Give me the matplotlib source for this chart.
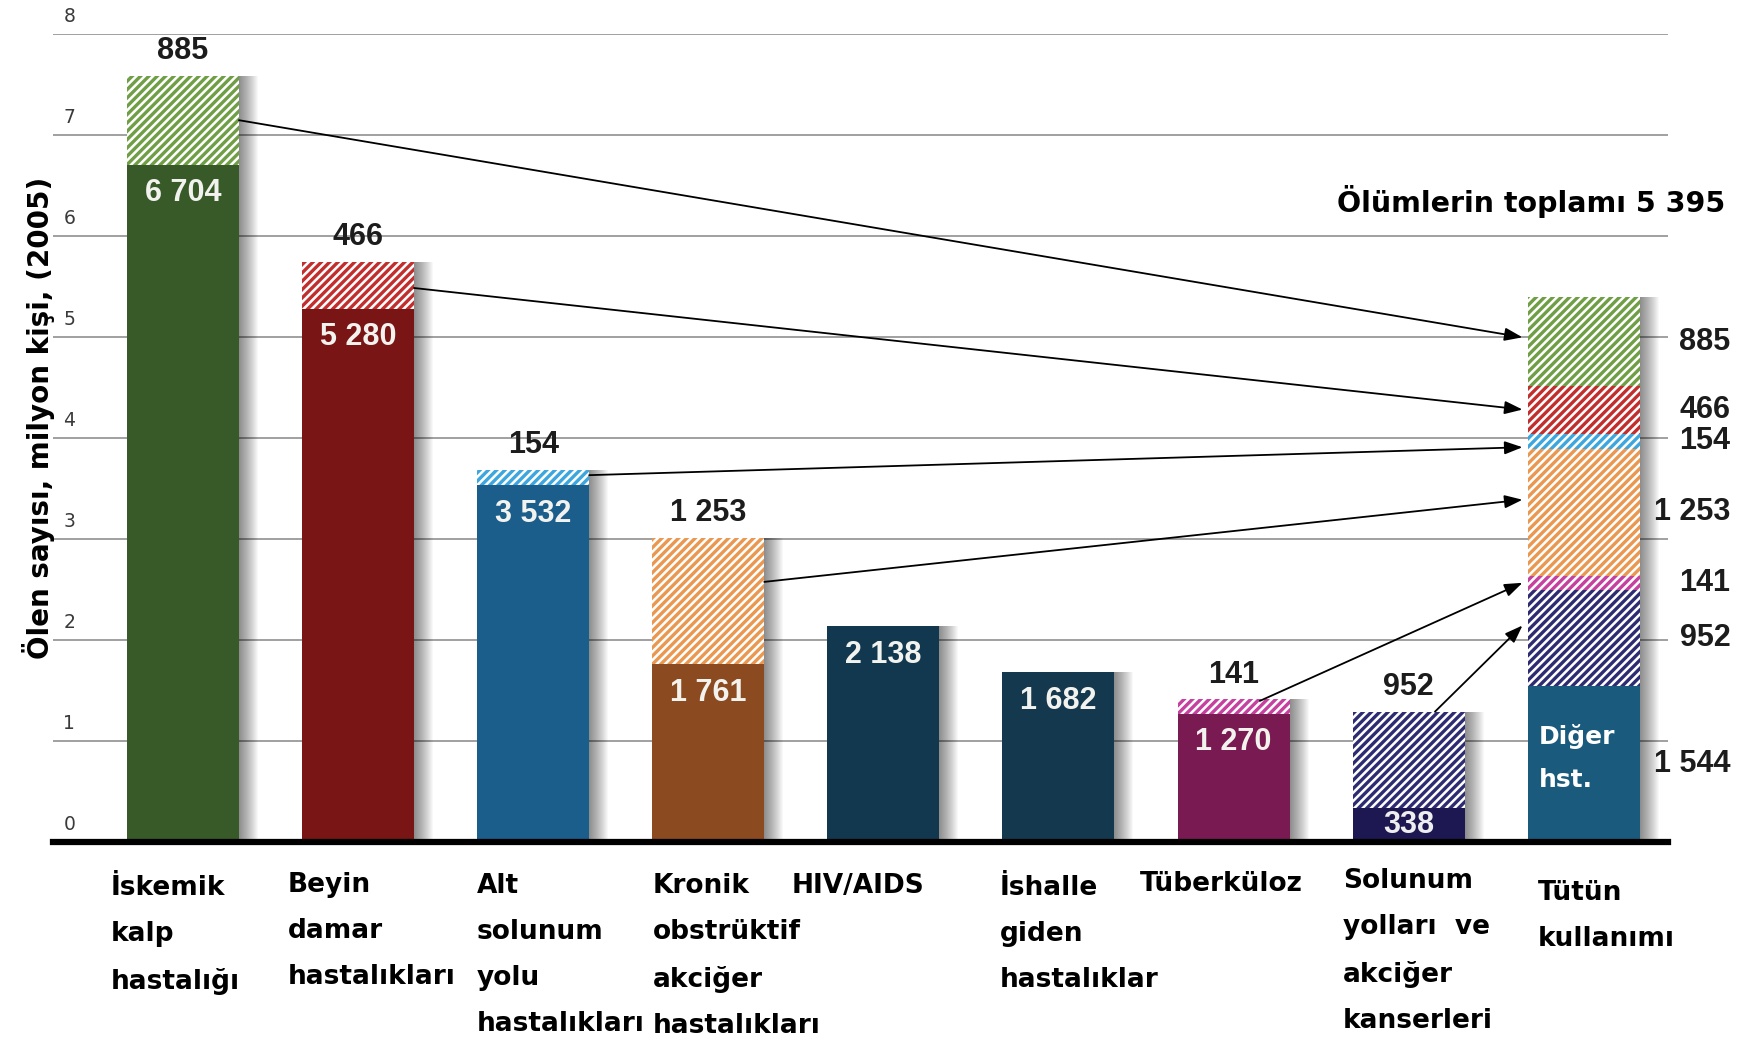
import matplotlib
matplotlib.use("Agg")
import matplotlib.pyplot as plt
import matplotlib.patheffects as pe
import numpy as np

# Deaths in thousands, 2005
categories = [
    "İskemik\nkalp\nhastalığı",
    "Beyin\ndamar\nhastalıkları",
    "Alt\nsolunum\nyolu\nhastalıkları",
    "Kronik\nobstrüktif\nakciğer\nhastalıkları",
    "HIV/AIDS",
    "İshalle\ngiden\nhastalıklar",
    "Tüberküloz",
    "Solunum\nyolları  ve\nakciğer\nkanserleri",
    "Tütün\nkullanımı",
]
other_deaths = [6704, 5280, 3532, 1761, 2138, 1682, 1270, 338]
tobacco_deaths = [885, 466, 154, 1253, 0, 0, 141, 952]
tobacco_other = 1544              # "Diğer hst." part of the tobacco bar
stack_order = [7, 6, 3, 2, 1, 0]  # bottom -> top in the tobacco bar
yticks = list(range(0, 9))

solid_colors = ["#385a28", "#7a1515", "#1b5d8b", "#8b4a1f",
                "#12384f", "#14394f", "#7a1a52", "#1d1852"]
hatch_colors = ["#6f9e45", "#c22e2e", "#3da6de", "#ea9750",
                None, None, "#c5409f", "#2d2c72"]
other_tobacco_color = "#1a5a7c"

# arrow anchors: offset from bar centre, fraction inside source / target segment
arrow_dx = [0.32, 0.32, 0.32, 0.32, 0.15, 0.15]
arrow_src_frac = [0.50, 0.44, 0.65, 0.65, 0.90, 1.0]
arrow_dst_frac = [0.55, 0.51, 0.12, 0.60, 0.50, 0.63]

# x-label anchors in pixels (left, top of first line)
label_xy = [(111, 875), (288, 872), (477, 873), (653, 873), (792, 873),
            (1000, 875), (1140, 871), (1343, 868), (1538, 880)]


def fmt(v):
    return f"{v:,}".replace(",", " ")


W, H = 1748, 1041
plt.rcParams["hatch.linewidth"] = 2.4
fig = plt.figure(figsize=(W / 100, H / 100), dpi=100)
fig.patch.set_facecolor("white")
ax = fig.add_axes([53 / W, 1 - 842 / H, (1668 - 53) / W, (842 - 34) / H])
ax.set_xlim(-0.742, 8.481)
ax.set_ylim(0, 8)
for s in ax.spines.values():
    s.set_visible(False)
ax.set_xticks([])
ax.set_yticks(yticks)
ax.tick_params(axis="y", length=0, labelleft=False)
ax.yaxis.grid(True, color="#a0a0a0", lw=1.4, zorder=0)
ax.set_axisbelow(True)

for v in yticks:
    ax.annotate(str(v), xy=(0, v), xycoords=("axes fraction", "data"),
                xytext=(7.5, 6), textcoords="offset points", ha="left",
                va="bottom", fontsize=13.5, color="#3a3a3a",
                family="DejaVu Sans")

width = 0.64
x = np.arange(len(other_deaths))
other = np.array(other_deaths) / 1000
tob = np.array(tobacco_deaths) / 1000
xt = len(other_deaths)
tob_total = (tobacco_other + sum(tobacco_deaths)) / 1000

# soft drop shadows to the right of every bar
totals = np.append(other + tob, tob_total)
shadow = [pe.SimplePatchShadow(offset=(d * 0.72, 0), shadow_rgbFace="black",
                               alpha=0.026) for d in range(1, 20)]
ax.bar(np.arange(len(totals)), totals, width, color="white", lw=0,
       zorder=1, path_effects=shadow)

# non-tobacco parts
ax.bar(x, other, width, color=solid_colors, lw=0, zorder=2)
# tobacco-attributable parts (hatched)
for i in range(len(x)):
    if tob[i] > 0:
        ax.bar(x[i], tob[i], width, bottom=other[i], facecolor="white",
               edgecolor=hatch_colors[i], lw=0, hatch="////", zorder=2)

# stacked tobacco bar
seg_bottoms = {}
ax.bar(xt, tobacco_other / 1000, width, color=other_tobacco_color, lw=0, zorder=2)
right_labels = [(tobacco_other / 1000 / 2, fmt(tobacco_other))]
base = tobacco_other / 1000
for i in stack_order:
    ax.bar(xt, tob[i], width, bottom=base, facecolor="white",
           edgecolor=hatch_colors[i], lw=0, hatch="////", zorder=2)
    seg_bottoms[i] = base
    right_labels.append((base + tob[i] / 2, fmt(tobacco_deaths[i])))
    base += tob[i]

num_font = dict(family="Liberation Sans", fontweight="bold", fontsize=22)

for i in range(len(x)):
    if tob[i] > 0:
        ax.annotate(fmt(tobacco_deaths[i]), xy=(x[i], other[i] + tob[i]),
                    xytext=(0, 7), textcoords="offset points", ha="center",
                    va="bottom", color="#1c1c1c", **num_font)
    if other[i] < 0.6:
        ax.annotate(fmt(other_deaths[i]), xy=(x[i], other[i] / 2),
                    ha="center", va="center", color="#eeeeee", **num_font)
    else:
        ax.annotate(fmt(other_deaths[i]), xy=(x[i], other[i]),
                    xytext=(0, -20.5), textcoords="offset points",
                    ha="center", va="center", color="#f2f2ee", **num_font)

for yc, txt in right_labels:
    ax.annotate(txt, xy=(1.0, yc), xycoords=("axes fraction", "data"),
                xytext=(45, 0), textcoords="offset points", ha="right",
                va="center", color="#1c1c1c", annotation_clip=False,
                **num_font)

ax.annotate("Diğer\nhst.", xy=(xt - width / 2, tobacco_other / 1000 / 2),
            xytext=(8, 4), textcoords="offset points", ha="left",
            va="center", color="white", fontsize=18, fontweight="bold",
            family="DejaVu Sans", linespacing=2.0)

# arrows from each tobacco share to its slot in the tobacco bar
src_idx = [i for i in range(len(x)) if tob[i] > 0]
for k, i in enumerate(src_idx):
    y0 = other[i] + arrow_src_frac[k] * tob[i]
    y1 = seg_bottoms[i] + arrow_dst_frac[k] * tob[i]
    ax.annotate("", xy=(xt - width / 2 - 0.03, y1), xytext=(x[i] + arrow_dx[k], y0),
                arrowprops=dict(arrowstyle="-|>,head_length=0.6,head_width=0.22",
                                color="black", lw=1.3, mutation_scale=18,
                                shrinkA=0, shrinkB=0), zorder=4)

# heavy baseline
ax.axhline(0, color="black", lw=4.5, zorder=5, clip_on=False)

label_font = dict(family="DejaVu Sans", fontweight="bold", color="black")
for (lx, ly), lab in zip(label_xy, categories):
    fig.text(lx / W, 1 - ly / H, lab, ha="left", va="top", fontsize=19,
             linespacing=2.0, **label_font)

fig.text(39 / W, 1 - 418 / H, "Ölen sayısı, milyon kişi, (2005)",
         rotation=90, ha="center", va="center", fontsize=20, **label_font)

fig.text(1725 / W, 1 - 212 / H,
         f"Ölümlerin toplamı {fmt(tobacco_other + sum(tobacco_deaths))}",
         ha="right", va="baseline", fontsize=20.5, **label_font)

fig.savefig("out.png", dpi=100, facecolor="white")
